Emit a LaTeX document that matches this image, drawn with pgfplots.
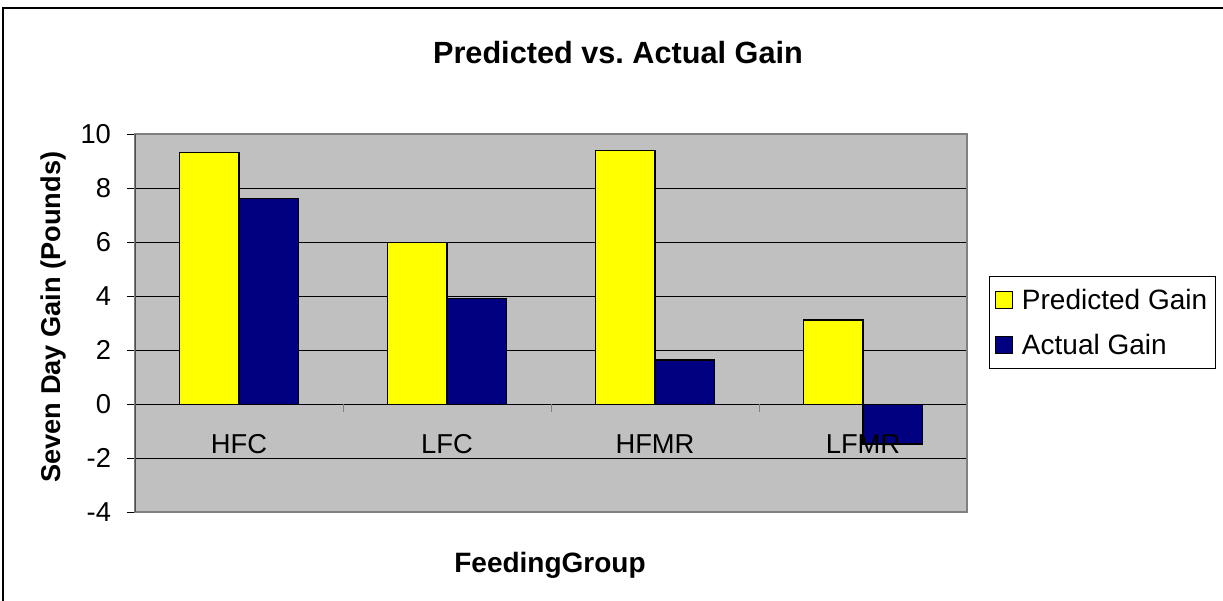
\documentclass[border=0pt]{standalone}
\usepackage{fontspec}
\setmainfont{Liberation Sans}
\usepackage{pgfplots}
\pgfplotsset{compat=1.18}
\definecolor{predY}{RGB}{255,255,0}
\definecolor{actB}{RGB}{0,0,128}
\definecolor{plotbg}{RGB}{192,192,192}
\definecolor{frameG}{RGB}{128,128,128}
\begin{document}
\begin{tikzpicture}
\begin{axis}[
  at={(101.25pt,65.8pt)}, anchor=south west,
  scale only axis, width=624pt, height=283.7pt,
  xmin=-0.5, xmax=3.5, ymin=-4, ymax=10,
  ytick={-4,-2,...,10},
  xtick={0,1,2,3}, xticklabels={HFC,LFC,HFMR,{}},
  ytick pos=left,
  ymajorgrids, grid style={black, line width=0.6pt},
  axis background/.style={fill=plotbg},
  axis line style={frameG, line width=1.2pt},
  tick align=outside, major tick length=6pt,
  ytick style={black, line width=0.6pt},
  xtick style={draw=none},
  /pgf/number format/assume math mode=true,
  tick label style={font=\fontsize{20.5}{24}\selectfont},
  yticklabel style={xshift=-8.5pt},
  xticklabel style={anchor=base, yshift=50pt},
  title={Predicted vs.\ Actual Gain},
  title style={at={(0.5805,1.165)}, anchor=base, yshift=0pt, font=\bfseries\fontsize{23}{27}\selectfont},
  xlabel={FeedingGroup},
  xlabel style={at={(0.4988,-0.158)}, anchor=base, font=\bfseries\fontsize{21}{25}\selectfont},
  ylabel={Seven Day Gain (Pounds)},
  ylabel style={at={(-0.0974,0.516)}, anchor=center, font=\bfseries\fontsize{20.4}{24}\selectfont},
  legend style={at={(1.0264,0.625)}, anchor=north west, draw=black, line width=0.75pt,
    font=\fontsize{21}{25}\selectfont, legend cell align=left, row sep=13pt,
    inner xsep=4.5pt, inner ysep=7.5pt},
]
\addplot[ybar, bar width=0.2857, bar shift=-0.14285, fill=predY, draw=black, line width=1pt,
  legend image code/.code={\draw[fill=predY, draw=black, line width=0.75pt] (0pt,-6.3pt) rectangle (12.75pt,6.45pt); \path (17pt,0pt);}]
  coordinates {(0,9.32) (1,5.99) (2,9.40) (3,3.11)};
\addlegendentry{Predicted Gain}
\addplot[ybar, bar width=0.2857, bar shift=0.14285, fill=actB, draw=black, line width=1pt,
  legend image code/.code={\draw[fill=actB, draw=black, line width=0.75pt] (0pt,-6.3pt) rectangle (12.75pt,6.45pt); \path (17pt,0pt);}]
  coordinates {(0,7.62) (1,3.92) (2,1.64) (3,-1.47)};
\addlegendentry{Actual Gain}
\draw[frameG, line width=0.75pt] (axis cs:0.5,0) -- ++(0pt,-6pt);
\draw[frameG, line width=0.75pt] (axis cs:1.5,0) -- ++(0pt,-6pt);
\draw[frameG, line width=0.75pt] (axis cs:2.5,0) -- ++(0pt,-6pt);
\draw[black!70, line width=1.5pt] (rel axis cs:0,0) -- (rel axis cs:0,1);
\node[anchor=base, yshift=-36.8pt, font=\fontsize{20.5}{24}\selectfont] at (axis cs:3,0) {LFMR};
\end{axis}
\pgfresetboundingbox
\useasboundingbox (0,0) rectangle (917.25pt,450pt);
\draw[line width=1.5pt] (2.6pt,-10pt) -- (2.6pt,444pt) -- (930pt,444pt);
\end{tikzpicture}
\end{document}
